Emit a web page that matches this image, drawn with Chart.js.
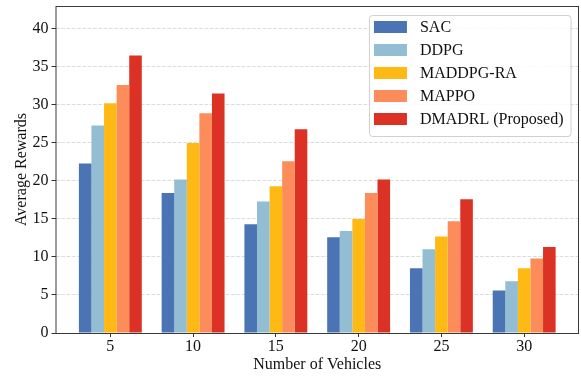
<!DOCTYPE html>
<html>
<head>
<meta charset="utf-8">
<script src="https://cdn.jsdelivr.net/npm/chart.js@4.4.1/dist/chart.umd.min.js"></script>
<style>
  html, body { margin: 0; padding: 0; background: #fff; }
  #wrap { width: 581px; height: 378px; }
</style>
</head>
<body>
<div id="wrap"><canvas id="c" width="581" height="378"></canvas></div>
<script>
// Average rewards per algorithm for each fleet size
const vehicleCounts = [5, 10, 15, 20, 25, 30];
const sac     = [22.3, 18.4, 14.3, 12.6, 8.5, 5.6];
const ddpg    = [27.3, 20.2, 17.3, 13.4, 11.0, 6.8];
const maddpg  = [30.2, 25.0, 19.3, 15.0, 12.7, 8.5];
const mappo   = [32.6, 28.9, 22.6, 18.4, 14.7, 9.8];
const dmadrl  = [36.5, 31.5, 26.8, 20.2, 17.6, 11.3];
const seriesNames = ['SAC', 'DDPG', 'MADDPG-RA', 'MAPPO', 'DMADRL (Proposed)'];
const yTicks = [0, 5, 10, 15, 20, 25, 30, 35, 40];

const seriesValues = [sac, ddpg, maddpg, mappo, dmadrl];
const seriesColors = ['#4a74b4', '#92bdd2', '#feb914', '#fc8c59', '#dc3125'];
const SERIF = '"Liberation Serif", "Times New Roman", serif';

const datasets = seriesValues.map((vals, s) => ({
  label: seriesNames[s],
  data: vals.map((v, i) => ({ x: i, y: v })),
  backgroundColor: seriesColors[s],
  borderWidth: 0,
  categoryPercentage: 0.76,
  barPercentage: 1.0
}));

// Frame around the plot area
const framePlugin = {
  id: 'frame',
  afterDatasetsDraw(chart) {
    const { ctx, chartArea: a } = chart;
    ctx.save();
    ctx.strokeStyle = '#3a3a3a';
    ctx.lineWidth = 1;
    ctx.strokeRect(a.left + 0.5, a.top + 0.5, a.right - a.left - 1, a.bottom - a.top);
    ctx.restore();
  }
};

// Legend drawn inside the upper right corner of the plot area
const insideLegend = {
  id: 'insideLegend',
  afterDraw(chart) {
    const { ctx, chartArea: a } = chart;
    const ds = chart.data.datasets;
    ctx.save();
    ctx.font = '16px ' + SERIF;
    let maxW = 0;
    ds.forEach(d => { maxW = Math.max(maxW, ctx.measureText(d.label).width); });
    const padL = 5, sw = 33, sh = 12, gap = 13, padR = 7, rowH = 23, padT = 12;
    const w = padL + sw + gap + maxW + padR;
    const h = padT * 2 + rowH * (ds.length - 1) - 1 + 6;
    const x0 = a.right - 8.5 - w;
    const y0 = a.top + 9;
    ctx.beginPath();
    ctx.roundRect(x0 + 0.5, y0 + 0.5, w, h, 3);
    ctx.fillStyle = 'rgba(255,255,255,0.85)';
    ctx.fill();
    ctx.strokeStyle = '#d0d0d0';
    ctx.lineWidth = 1;
    ctx.stroke();
    ds.forEach((d, i) => {
      const cy = y0 + padT + i * rowH;
      ctx.fillStyle = d.backgroundColor;
      ctx.fillRect(x0 + padL, cy - sh / 2, sw, sh);
      ctx.fillStyle = '#111';
      ctx.textBaseline = 'middle';
      ctx.textAlign = 'left';
      ctx.fillText(d.label, x0 + padL + sw + gap, cy + 1);
    });
    ctx.restore();
  }
};

new Chart(document.getElementById('c'), {
  type: 'bar',
  data: { datasets },
  plugins: [framePlugin, insideLegend],
  options: {
    responsive: false,
    animation: false,
    layout: { padding: { top: 6, right: 2, left: 0, bottom: 4 } },
    plugins: {
      legend: { display: false },
      tooltip: { enabled: false }
    },
    scales: {
      x: {
        type: 'linear',
        min: -0.6625,
        max: 5.6625,
        offset: false,
        afterBuildTicks(scale) {
          scale.ticks = vehicleCounts.map((_, i) => ({ value: i }));
        },
        afterFit(scale) {
          scale.height = 41;
          scale.paddingLeft = 0;
          scale.paddingRight = 0;
        },
        ticks: {
          callback: (v) => vehicleCounts[v],
          font: { family: SERIF, size: 16 },
          color: '#111',
          padding: 0,
          maxRotation: 0,
          autoSkip: false
        },
        grid: {
          offset: false,
          drawOnChartArea: false,
          drawTicks: true,
          tickLength: 4,
          tickColor: '#333'
        },
        border: { display: false },
        title: {
          display: true,
          text: 'Number of Vehicles',
          font: { family: SERIF, size: 16 },
          color: '#111',
          padding: { top: 0, bottom: 0 }
        }
      },
      y: {
        min: 0,
        max: 43,
        afterBuildTicks(scale) {
          scale.ticks = yTicks.map(v => ({ value: v }));
        },
        afterFit(scale) {
          scale.width = 55.5;
          scale.paddingTop = 0;
          scale.paddingBottom = 0;
        },
        ticks: {
          font: { family: SERIF, size: 16 },
          color: '#111',
          padding: 3
        },
        grid: {
          color: '#dcdcdc',
          lineWidth: 1,
          drawTicks: true,
          tickLength: 4,
          tickColor: '#333',
          tickBorderDash: []
        },
        border: { display: false, dash: [3.7, 1.6] },
        title: {
          display: true,
          text: 'Average Rewards',
          font: { family: SERIF, size: 16 },
          color: '#111',
          padding: { top: 12, bottom: 0 }
        }
      }
    }
  }
});
</script>
</body>
</html>
